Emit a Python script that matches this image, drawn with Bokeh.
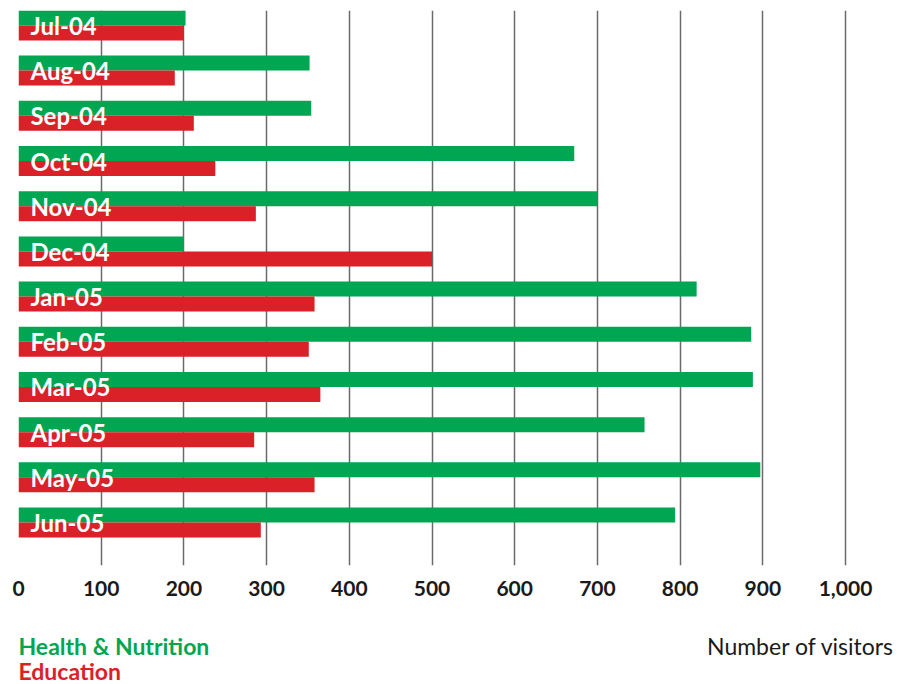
from bokeh.plotting import figure
from bokeh.layouts import column
from bokeh.models import Range1d, FixedTicker, NumeralTickFormatter, ColumnDataSource
from bokeh.transform import dodge
from bokeh.core.properties import value
from bokeh.embed import file_html
from bokeh.resources import INLINE

months = ["Jul-04", "Aug-04", "Sep-04", "Oct-04", "Nov-04", "Dec-04",
          "Jan-05", "Feb-05", "Mar-05", "Apr-05", "May-05", "Jun-05"]
health_nutrition = [202, 352, 354, 672, 700, 200, 820, 886, 888, 757, 897, 794]
education = [200, 189, 212, 238, 287, 500, 358, 351, 365, 285, 358, 293]
x_ticks = [0, 100, 200, 300, 400, 500, 600, 700, 800, 900, 1000]
series_names = ["Health & Nutrition", "Education"]
x_title = "Number of visitors"

GREEN = "#00a651"
RED = "#da2128"
INK = "#1a1a1a"
FONT = "Lato"

FRAME_L, FRAME_R = 18, 900          # pixel edges of the plotting frame
PX_PER_UNIT = 0.827                 # horizontal pixels per visitor

src = ColumnDataSource(dict(pos=list(range(len(months))), month=months,
                            hn=health_nutrition, ed=education))

p = figure(width=911, height=610, output_backend="svg", toolbar_location=None,
           x_range=Range1d(0, (FRAME_R - FRAME_L) / PX_PER_UNIT),
           y_range=Range1d(11.95, -0.33),
           min_border_left=FRAME_L, min_border_right=911 - FRAME_R,
           min_border_top=10, min_border_bottom=45)
p.outline_line_color = None

bar_h = 0.332
p.hbar(y=dodge("pos", -bar_h / 2), right="hn", left=0, height=bar_h,
       source=src, color=GREEN, line_color=None)
p.hbar(y=dodge("pos", bar_h / 2), right="ed", left=0, height=bar_h,
       source=src, color=RED, line_color=None)

# month names sit on top of the bars, straddling the two series
p.text(x=14.5, y="pos", text="month", source=src, text_color="white",
       text_font=value(FONT), text_font_style="bold", text_font_size="24px",
       text_baseline="middle", text_align="left")

p.yaxis.visible = False
p.ygrid.visible = False
p.xgrid.ticker = FixedTicker(ticks=x_ticks)
p.xgrid.grid_line_color = "#6a6a6a"
p.xgrid.grid_line_width = 1.5

ax = p.xaxis[0]
ax.ticker = FixedTicker(ticks=x_ticks)
ax.formatter = NumeralTickFormatter(format="0,0")
ax.axis_line_color = None
ax.major_tick_line_color = None
ax.minor_tick_line_color = None
ax.major_label_standoff = 9
ax.major_label_text_font = FONT
ax.major_label_text_font_style = "bold"
ax.major_label_text_font_size = "21px"
ax.major_label_text_color = INK

# key strip underneath: series names on the left, axis title on the right
key = figure(width=911, height=74, output_backend="svg", toolbar_location=None,
             x_range=Range1d(FRAME_L, FRAME_R), y_range=Range1d(74, 0),
             min_border_left=FRAME_L, min_border_right=911 - FRAME_R,
             min_border_top=0, min_border_bottom=0)
key.axis.visible = False
key.grid.visible = False
key.outline_line_color = None
key.text(x=[18, 18], y=[35, 60], text=series_names, text_color=[GREEN, RED],
         text_font=value(FONT), text_font_style="bold", text_font_size="23px",
         text_baseline="middle", text_align="left")
key.text(x=[894], y=[35], text=[x_title], text_color=INK,
         text_font=value(FONT), text_font_size="23px",
         text_baseline="middle", text_align="right")

open("out.html", "w").write(file_html(column(p, key, spacing=0), INLINE))
